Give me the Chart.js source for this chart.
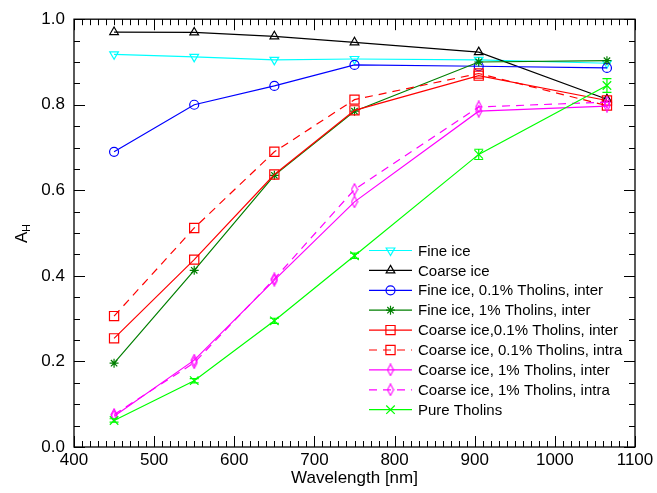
<!DOCTYPE html>
<html>
<head>
<meta charset="utf-8">
<script src="https://cdn.jsdelivr.net/npm/chart.js@4.4.0/dist/chart.umd.min.js"></script>
<style>
  html, body { margin: 0; padding: 0; background: #fff; }
  #wrap { width: 657px; height: 493px; position: relative; }
</style>
</head>
<body>
<div id="wrap"><canvas id="chart1"></canvas></div>
<script>
// data
const wavelengths = [450, 550, 650, 750, 905, 1065];
const fineIce = [0.918, 0.912, 0.905, 0.907, 0.905, 0.897];
const coarseIce = [0.970, 0.969, 0.960, 0.946, 0.923, 0.813];
const fineTh01Inter = [0.690, 0.800, 0.844, 0.893, 0.890, 0.886];
const fineTh1Inter = [0.196, 0.413, 0.635, 0.785, 0.900, 0.903];
const coarseTh01Inter = [0.254, 0.438, 0.637, 0.787, 0.868, 0.810];
const coarseTh01Intra = [0.306, 0.512, 0.690, 0.812, 0.873, 0.798];
const coarseTh1Inter = [0.072, 0.203, 0.390, 0.573, 0.785, 0.797];
const coarseTh1Intra = [0.076, 0.197, 0.393, 0.602, 0.795, 0.806];
const pureTholins = [0.062, 0.155, 0.295, 0.447, 0.684, 0.845];
const pureTholinsErr = [0.004, 0.005, 0.006, 0.006, 0.012, 0.016];

const seriesNames = [
  'Fine ice', 'Coarse ice', 'Fine ice, 0.1% Tholins, inter', 'Fine ice, 1% Tholins, inter',
  'Coarse ice,0.1% Tholins, inter', 'Coarse ice, 0.1% Tholins, intra',
  'Coarse ice, 1% Tholins, inter', 'Coarse ice, 1% Tholins, intra', 'Pure Tholins'
];
const xTicks = [400, 500, 600, 700, 800, 900, 1000, 1100];
const yTicks = [0.0, 0.2, 0.4, 0.6, 0.8, 1.0];

const FONT = "'Liberation Sans', Arial, sans-serif";

// thin diamond marker (the library only has a square one)
function diamond(color) {
  const c = document.createElement('canvas');
  c.width = 8; c.height = 13;
  const g = c.getContext('2d');
  g.strokeStyle = color; g.lineWidth = 1.1;
  g.beginPath();
  g.moveTo(4, 0.8); g.lineTo(7, 6.5); g.lineTo(4, 12.2); g.lineTo(1, 6.5); g.closePath();
  g.stroke();
  return c;
}
const magDiamond = diamond('#ff00ff');

function pts(ys) {
  return wavelengths.map((x, i) => ({ x: x, y: ys[i] }));
}

function makeSet(i, ys, color, style, radius, extra) {
  return Object.assign({
    label: seriesNames[i],
    data: pts(ys),
    borderColor: color,
    backgroundColor: 'rgba(0,0,0,0)',
    pointBorderColor: color,
    pointBackgroundColor: 'rgba(0,0,0,0)',
    pointStyle: style,
    pointRadius: radius,
    pointHoverRadius: radius,
    pointBorderWidth: 1.2,
    borderWidth: 1.2,
    showLine: true,
    tension: 0,
    order: 8 - i
  }, extra || {});
}

const datasets = [
  makeSet(0, fineIce, '#00ffff', 'triangle', 5, { pointRotation: 180 }),
  makeSet(1, coarseIce, '#000000', 'triangle', 5),
  makeSet(2, fineTh01Inter, '#0000ff', 'circle', 4.5),
  makeSet(3, fineTh1Inter, '#007f00', 'star', 4.5),
  makeSet(4, coarseTh01Inter, '#ff0000', 'rect', 6.5),
  makeSet(5, coarseTh01Intra, '#ff0000', 'rect', 6.5, { borderDash: [8, 6] }),
  makeSet(6, coarseTh1Inter, '#ff00ff', magDiamond, 6),
  makeSet(7, coarseTh1Intra, '#ff00ff', magDiamond, 6, { borderDash: [8, 6] }),
  makeSet(8, pureTholins, '#00ff00', 'crossRot', 6)
];

// error bars for pure tholins
const errorBars = {
  id: 'errorBars',
  afterDatasetsDraw(chart) {
    const ctx = chart.ctx, xs = chart.scales.x, ys = chart.scales.y;
    ctx.save();
    ctx.strokeStyle = '#00ff00';
    ctx.lineWidth = 1.2;
    wavelengths.forEach((w, i) => {
      const px = xs.getPixelForValue(w);
      const top = ys.getPixelForValue(pureTholins[i] + pureTholinsErr[i]);
      const bot = ys.getPixelForValue(pureTholins[i] - pureTholinsErr[i]);
      ctx.beginPath();
      ctx.moveTo(px, top); ctx.lineTo(px, bot);
      ctx.moveTo(px - 4.5, top); ctx.lineTo(px + 4.5, top);
      ctx.moveTo(px - 4.5, bot); ctx.lineTo(px + 4.5, bot);
      ctx.stroke();
    });
    ctx.restore();
  }
};

// box frame with inward ticks on all four sides, plus axis titles
const frame = {
  id: 'frame',
  afterDraw(chart) {
    const ctx = chart.ctx, a = chart.chartArea;
    const xs = chart.scales.x, ys = chart.scales.y;
    ctx.save();
    ctx.strokeStyle = '#000';
    ctx.lineWidth = 1.3;
    ctx.strokeRect(a.left, a.top, a.right - a.left, a.bottom - a.top);
    ctx.beginPath();
    for (let v = 400; v <= 1100; v += 10) {
      const px = Math.round(xs.getPixelForValue(v)) + 0.5;
      const len = (v % 100 === 0) ? 11 : 6;
      ctx.moveTo(px, a.bottom); ctx.lineTo(px, a.bottom - len);
      ctx.moveTo(px, a.top); ctx.lineTo(px, a.top + len);
    }
    for (let k = 0; k <= 20; k++) {
      const py = Math.round(ys.getPixelForValue(k * 0.05)) + 0.5;
      const len = (k % 4 === 0) ? 11 : 6;
      ctx.moveTo(a.left, py); ctx.lineTo(a.left + len, py);
      ctx.moveTo(a.right, py); ctx.lineTo(a.right - len, py);
    }
    ctx.lineWidth = 1;
    ctx.stroke();

    // titles
    ctx.fillStyle = '#000';
    ctx.font = '17px ' + FONT;
    ctx.textAlign = 'center';
    ctx.textBaseline = 'middle';
    ctx.fillText('Wavelength [nm]', (a.left + a.right) / 2, 478);

    ctx.translate(22, 236);
    ctx.rotate(-Math.PI / 2);
    ctx.font = '17px ' + FONT;
    ctx.textAlign = 'left';
    ctx.fillText('A', -7, 0);
    ctx.font = '11px ' + FONT;
    ctx.fillText('H', 4, 5);
    ctx.restore();
  }
};

// legend with line sample + hollow marker, drawn inside the plot
const lineLegend = {
  id: 'lineLegend',
  afterDraw(chart) {
    const ctx = chart.ctx;
    ctx.save();
    chart.data.datasets.forEach((ds, i) => {
      const y = 250.5 + i * 19.9;
      ctx.strokeStyle = ds.borderColor;
      ctx.lineWidth = 1.2;
      ctx.setLineDash(ds.borderDash || []);
      ctx.beginPath();
      ctx.moveTo(369, y); ctx.lineTo(412, y);
      ctx.stroke();
      ctx.setLineDash([]);
      ctx.fillStyle = 'rgba(0,0,0,0)';
      Chart.helpers.drawPoint(ctx, {
        pointStyle: ds.pointStyle,
        rotation: ds.pointRotation || 0,
        radius: ds.pointRadius,
        borderWidth: 1.2
      }, 390.5, y);
      ctx.fillStyle = '#000';
      ctx.font = '15px ' + FONT;
      ctx.textAlign = 'left';
      ctx.textBaseline = 'middle';
      ctx.fillText(ds.label, 418, y + 1);
    });
    ctx.restore();
  }
};

Chart.defaults.font.family = FONT;
Chart.defaults.color = '#000';

new Chart(document.getElementById('chart1'), {
  type: 'scatter',
  data: { datasets: datasets },
  options: {
    responsive: true,
    maintainAspectRatio: false,
    animation: false,
    events: [],
    layout: { padding: { top: 16, right: 22, left: 0, bottom: 0 } },
    plugins: { legend: { display: false }, tooltip: { enabled: false } },
    scales: {
      x: {
        type: 'linear', min: 400, max: 1100,
        afterBuildTicks: s => { s.ticks = xTicks.map(v => ({ value: v })); },
        afterFit: s => { s.height = 46; },
        grid: { display: false, drawTicks: false },
        border: { display: false },
        ticks: { font: { size: 17 }, padding: 3, maxRotation: 0, callback: v => String(v) }
      },
      y: {
        type: 'linear', min: 0, max: 1,
        afterBuildTicks: s => { s.ticks = yTicks.map(v => ({ value: v })); },
        afterFit: s => { s.width = 74; },
        grid: { display: false, drawTicks: false },
        border: { display: false },
        ticks: { font: { size: 17 }, padding: 9, callback: v => v.toFixed(1) }
      }
    }
  },
  plugins: [errorBars, frame, lineLegend]
});
</script>
</body>
</html>
